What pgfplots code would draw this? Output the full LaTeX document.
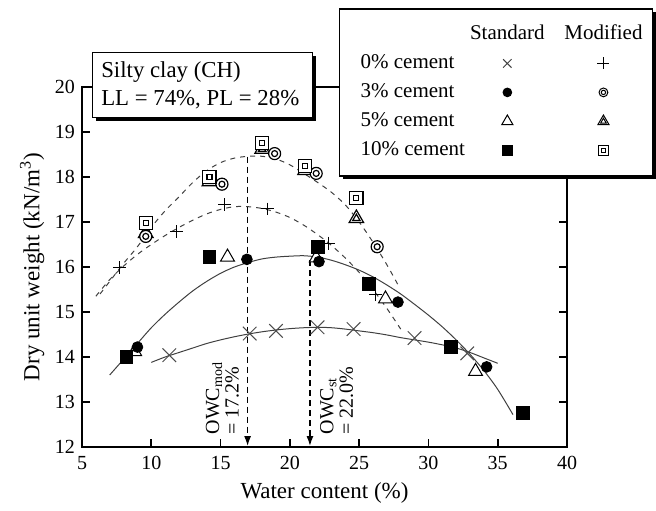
\documentclass[border=0pt]{standalone}
\usepackage{fontspec}
\setmainfont{Liberation Serif}
\usepackage{pgfplots}
\pgfplotsset{compat=1.18}
\usetikzlibrary{arrows.meta,shadows}

% open marks with an inner copy
\pgfdeclareplotmark{dcirc}{%
  \pgfpathcircle{\pgfpointorigin}{\pgfplotmarksize}\pgfusepathqfillstroke
  \pgfpathcircle{\pgfpointorigin}{0.5\pgfplotmarksize}\pgfusepathqstroke}
\pgfdeclareplotmark{sqsq}{%
  \pgfpathrectangle{\pgfqpoint{-\pgfplotmarksize}{-\pgfplotmarksize}}{\pgfqpoint{2\pgfplotmarksize}{2\pgfplotmarksize}}\pgfusepathqfillstroke
  \pgfpathrectangle{\pgfqpoint{-0.38\pgfplotmarksize}{-0.38\pgfplotmarksize}}{\pgfqpoint{0.76\pgfplotmarksize}{0.76\pgfplotmarksize}}\pgfusepathqstroke}
\pgfdeclareplotmark{tritri}{%
  \pgfpathmoveto{\pgfqpoint{0pt}{\pgfplotmarksize}}%
  \pgfpathlineto{\pgfqpointpolar{-150}{\pgfplotmarksize}}%
  \pgfpathlineto{\pgfqpointpolar{-30}{\pgfplotmarksize}}%
  \pgfpathclose\pgfusepathqfillstroke
  \pgfpathmoveto{\pgfqpoint{0pt}{0.5\pgfplotmarksize}}%
  \pgfpathlineto{\pgfqpointpolar{-150}{0.5\pgfplotmarksize}}%
  \pgfpathlineto{\pgfqpointpolar{-30}{0.5\pgfplotmarksize}}%
  \pgfpathclose\pgfusepathqstroke}

\tikzset{
  shadowbox/.style={draw=black, line width=0.6pt, fill=white,
    drop shadow={shadow xshift=1.7pt, shadow yshift=-1.7pt, fill=black, opacity=1}},
}
\pgfplotsset{
  % invisible spacer for the label column
  lblimg/.style={legend image code/.code={%
    \pgfpathmoveto{\pgfpointorigin}\pgfpathlineto{\pgfqpoint{6.5pt}{0pt}}\pgfusepath{}}},
  hdrimg/.style 2 args={legend image code/.code={\node[anchor=center,inner sep=0pt,minimum width=#2] at (0.3cm,0pt) {#1};}},
}

\begin{document}
\begin{tikzpicture}
\begin{axis}[
  scale only axis, width=242.5pt, height=180pt,
  xmin=5, xmax=40, ymin=12, ymax=20,
  xtick={5,10,...,40}, ytick={12,13,...,20},
  tick align=inside, major tick length=4pt,
  axis line style={line width=1pt},
  tick style={black, line width=0.8pt},
  clip=false,
  xlabel={Water content (\%)},
  ylabel={Dry unit weight (kN/m\textsuperscript{3})},
  label style={font=\fontsize{11.5}{13}\selectfont},
  xlabel style={at={(axis description cs:0.5,-0.128)}, anchor=center},
  ylabel style={at={(axis description cs:-0.103,0.5)}, anchor=center},
  ticklabel style={font=\fontsize{10}{12}\selectfont},
  xticklabel style={yshift=-1pt},
  /pgf/number format/assume math mode=true,
  legend columns=3, legend cell align=left,
  legend style={
    at={(0.530,1.2186)}, anchor=north west, shadowbox,
    font=\fontsize{10.5}{12}\selectfont,
    inner xsep=2pt, inner ysep=8pt,
    row sep=5pt, column sep=2pt,
    nodes={inner sep=0pt, text height=7.3pt, text depth=2.2pt},
  },
]

% fitted curves
\addplot[forget plot, black!75, line width=0.5pt, smooth] coordinates {
  (7.0,13.60) (8.0,13.95) (9.0,14.30) (10.0,14.65) (11.0,14.95) (12.0,15.22)
  (13.0,15.47) (14.0,15.68) (15.0,15.86) (16.0,16.00) (17.0,16.10) (18.0,16.18)
  (19.0,16.22) (20.0,16.24) (21.0,16.25) (22.0,16.22) (23.0,16.15) (24.0,16.05)
  (25.0,15.93) (26.0,15.78) (27.0,15.60) (28.0,15.40) (29.0,15.17) (30.0,14.93)
  (31.0,14.67) (32.0,14.38) (33.0,14.06) (34.0,13.70) (35.0,13.28) (36.1,12.72)
};
\addplot[forget plot, black!75, line width=0.5pt, smooth] coordinates {
  (10.0,13.88) (11.0,14.00) (12.0,14.10) (13.0,14.20) (14.0,14.30) (15.0,14.38)
  (16.0,14.45) (17.0,14.51) (18.0,14.56) (19.0,14.60) (20.0,14.63) (21.0,14.65)
  (22.0,14.66) (23.0,14.65) (24.0,14.62) (25.0,14.58) (26.0,14.54) (27.0,14.49)
  (28.0,14.43) (29.0,14.38) (30.0,14.33) (31.0,14.27) (32.0,14.20) (33.0,14.10)
  (34.0,13.98) (35.0,13.86)
};
\addplot[forget plot, black!75, line width=0.5pt, dash pattern=on 2.5pt off 2.5pt, smooth] coordinates {
  (6.0,15.35) (7.0,15.72) (8.0,16.02) (9.0,16.28) (10.0,16.50) (11.0,16.70)
  (12.0,16.88) (13.0,17.04) (14.0,17.18) (15.0,17.28) (16.0,17.34) (17.0,17.34)
  (18.0,17.30) (19.0,17.22) (20.0,17.10) (21.0,16.93) (22.0,16.72) (23.0,16.48)
  (24.0,16.20) (25.0,15.88) (26.0,15.50) (27.0,15.08) (28.0,14.62)
};
\addplot[forget plot, black!75, line width=0.5pt, dash pattern=on 2.5pt off 2.5pt, smooth] coordinates {
  (6.3,15.40) (7.0,15.68) (8.0,16.08) (9.0,16.45) (10.0,16.88) (11.0,17.25)
  (12.0,17.56) (13.0,17.88) (14.0,18.14) (15.0,18.32) (16.0,18.42) (17.0,18.46)
  (18.0,18.46) (19.0,18.40) (20.0,18.27) (21.0,18.08) (22.0,17.88) (23.0,17.66)
  (24.0,17.38) (25.0,17.00) (26.0,16.55) (27.0,16.05) (27.9,15.55)
};

% optimum water content arrows
\addplot[forget plot, black, line width=0.7pt, dash pattern=on 3pt off 2pt,
  -{Latex[length=5pt,width=3.5pt]}] coordinates {(16.95,18.45) (16.95,12.02)};
\addplot[forget plot, black, line width=0.7pt, dash pattern=on 3pt off 2pt,
  -{Latex[length=5pt,width=3.5pt]}] coordinates {(21.45,16.15) (21.45,12.02)};

% 0% cement
\addplot[forget plot, only marks, mark=x, mark size=4.8pt, black!70, line width=0.5pt] coordinates {
  (11.3,14.04) (17.1,14.52) (19.0,14.58) (22.0,14.66) (24.6,14.62) (29.0,14.42) (32.8,14.08)
};
\addplot[forget plot, only marks, mark=+, mark size=3.2pt, black, line width=0.5pt] coordinates {
  (7.7,15.98) (11.8,16.78) (15.3,17.38) (18.4,17.29) (22.8,16.53) (26.2,15.38)
};
% 5% cement
\addplot[forget plot, only marks, mark=triangle*, mark size=4pt, black, line width=0.5pt,
  mark options={fill=white}] coordinates {
  (8.8,14.12) (15.5,16.22) (21.9,16.20) (26.9,15.29) (33.4,13.68)
};
\addplot[forget plot, only marks, mark=tritri, mark size=4.2pt, black, line width=0.6pt,
  mark options={fill=white}] coordinates {
  (9.6,16.75) (14.2,17.90) (18.0,18.62) (21.1,18.15) (24.8,17.08)
};
% 3% cement
\addplot[forget plot, only marks, mark=*, mark size=2.7pt, black] coordinates {
  (9.0,14.22) (16.9,16.17) (22.1,16.12) (27.8,15.22) (34.2,13.78)
};
\addplot[forget plot, only marks, mark=dcirc, mark size=3pt, black, line width=0.6pt,
  mark options={fill=white}] coordinates {
  (9.6,16.68) (15.1,17.84) (18.9,18.52) (21.9,18.08) (26.3,16.45)
};
% 10% cement
\addplot[forget plot, only marks, mark=square*, mark size=3.2pt, black] coordinates {
  (8.2,14.00) (14.2,16.22) (22.0,16.45) (25.7,15.62) (31.6,14.22) (36.8,12.76)
};
\addplot[forget plot, only marks, mark=sqsq, mark size=3.3pt, black, line width=0.6pt,
  mark options={fill=white}] coordinates {
  (9.6,16.98) (14.2,18.00) (18.0,18.76) (21.1,18.25) (24.8,17.53)
};

% legend: label column, Standard column, Modified column
\addlegendimage{lblimg}\addlegendentry{}
\addlegendimage{hdrimg={Standard}{46.9pt}}\addlegendentry{}
\addlegendimage{hdrimg={Modified}{39.2pt}}\addlegendentry{}
\addlegendimage{lblimg}\addlegendentry{\makebox[47.9pt][l]{0\% cement}}
\addlegendimage{only marks, mark=x, mark size=3pt, black!75, line width=0.5pt}\addlegendentry{}
\addlegendimage{only marks, mark=+, mark size=3pt, black, line width=0.5pt}\addlegendentry{}
\addlegendimage{lblimg}\addlegendentry{\makebox[47.9pt][l]{3\% cement}}
\addlegendimage{only marks, mark=*, mark size=2.1pt, black}\addlegendentry{}
\addlegendimage{only marks, mark=dcirc, mark size=2.2pt, black, line width=0.5pt, mark options={fill=white}}\addlegendentry{}
\addlegendimage{lblimg}\addlegendentry{\makebox[47.9pt][l]{5\% cement}}
\addlegendimage{only marks, mark=triangle*, mark size=3.2pt, black, line width=0.5pt, mark options={fill=white}}\addlegendentry{}
\addlegendimage{only marks, mark=tritri, mark size=3.2pt, black, line width=0.5pt, mark options={fill=white}}\addlegendentry{}
\addlegendimage{lblimg}\addlegendentry{\makebox[47.9pt][l]{10\% cement}}
\addlegendimage{only marks, mark=square*, mark size=2.3pt, black}\addlegendentry{}
\addlegendimage{only marks, mark=sqsq, mark size=2.5pt, black, line width=0.5pt, mark options={fill=white}}\addlegendentry{}

% annotations
\node[shadowbox, anchor=north west, align=left, inner xsep=4.5pt, inner ysep=3pt,
  minimum height=32.5pt, font=\fontsize{11.4}{14}\selectfont]
  at (axis cs:5.7,20.78) {\makebox[101pt][l]{Silty clay (CH)}\\\makebox[101pt][l]{LL = 74\%, PL = 28\%}};
\node[rotate=90, anchor=south west, align=left, inner sep=0pt,
  font=\fontsize{10}{9.8}\selectfont] at (axis cs:16.35,12.27) {OWC\textsubscript{mod}\\= 17.2\%};
\node[rotate=90, anchor=north west, align=left, inner sep=0pt,
  font=\fontsize{10}{9.8}\selectfont] at (axis cs:22.15,12.27) {OWC\textsubscript{st}\\= 22.0\%};

% page extent
\path (rel axis cs:-0.1691,-0.1639) rectangle (rel axis cs:1.1835,1.2417);
\end{axis}
\end{tikzpicture}
\end{document}
